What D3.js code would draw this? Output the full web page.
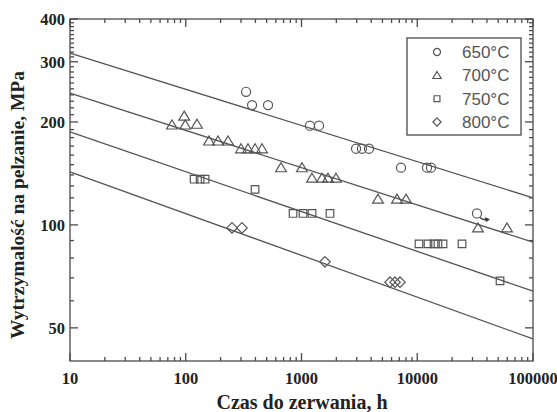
<!DOCTYPE html>
<html>
<head>
<meta charset="utf-8">
<script src="https://cdnjs.cloudflare.com/ajax/libs/d3/7.8.5/d3.min.js"></script>
<style>
  body { margin: 0; background: #fff; }
  svg { display: block; }
</style>
</head>
<body>
<svg width="557" height="412"></svg>
<script>
"use strict";

/////////////////////////////////////////////////////
//data (time h, stress MPa)
/////////////////////////////////////////////////////
const series = ["650°C", "700°C", "750°C", "800°C"];

const t650 = [332, 374, 514, 1183, 1416, 2960, 3330, 3830, 7240, 12140, 13150, 32800];
const s650 = [245, 224, 224, 195, 195, 167, 167, 167, 147, 147, 147, 108];

const t700 = [76, 97, 99, 125, 159, 190, 232, 300, 345, 397, 456, 665, 1010, 1232, 1504, 1694, 1986, 4580, 6680, 8000, 33500, 59600];
const s700 = [196, 208, 196, 197, 176, 176, 176, 167, 167, 167, 167, 147, 147, 137, 137, 137, 137, 119, 119, 119, 98, 98];

const t750 = [118, 133, 147, 397, 845, 1031, 1233, 1763, 10350, 12380, 13960, 15100, 16700, 24370, 51900];
const s750 = [136, 136, 136, 127, 108, 108, 108, 108, 88, 88, 88, 88, 88, 88, 68.6];

const t800 = [251, 306, 1596, 5820, 6430, 7100];
const s800 = [98, 98, 78, 68, 68, 68];

// fitted lines: stress at 10 h and at 100000 h
const lineT = [10, 100000];
const lineS = [[318, 120], [243, 89], [187, 64], [143, 46.4]];

// runout point (arrow)
const runoutT = 32800;
const runoutS = 108;

const xTicks = [10, 100, 1000, 10000, 100000];
const yTicks = [50, 100, 200, 300, 400];

/////////////////////////////////////////////////////
//setup
/////////////////////////////////////////////////////
const svg = d3.select("svg");
const ink = "#4a4a4a";
const plotL = 70, plotR = 533, plotT = 19, plotB = 361;

const x = d3.scaleLog().domain([10, 100000]).range([plotL, plotR]);
const y = d3.scaleLog().domain([40, 400]).range([plotB, plotT]);

const minorX = [];
for (let d = 10; d < 100000; d *= 10) {
  for (let k = 2; k <= 9; k++) minorX.push(d * k);
}
const minorY = d3.range(40, 401, 10).filter((v) => !yTicks.includes(v) && v !== 40);

/////////////////////////////////////////////////////
//frame and ticks (pointing inward on all four sides)
/////////////////////////////////////////////////////
const frame = svg.append("g").attr("stroke", ink).attr("stroke-width", 1.3);

frame
  .append("rect")
  .attr("x", plotL)
  .attr("y", plotT)
  .attr("width", plotR - plotL)
  .attr("height", plotB - plotT)
  .attr("fill", "none");

const xt = xTicks.map((v) => ({ v, len: 8 })).concat(minorX.map((v) => ({ v, len: 4 })));
const yt = yTicks.map((v) => ({ v, len: 8 })).concat(minorY.map((v) => ({ v, len: 4 })));

frame.selectAll(".xb").data(xt).enter().append("line")
  .attr("x1", (d) => x(d.v)).attr("x2", (d) => x(d.v))
  .attr("y1", plotB).attr("y2", (d) => plotB - d.len);
frame.selectAll(".xt").data(xt).enter().append("line")
  .attr("x1", (d) => x(d.v)).attr("x2", (d) => x(d.v))
  .attr("y1", plotT).attr("y2", (d) => plotT + d.len);
frame.selectAll(".yl").data(yt).enter().append("line")
  .attr("y1", (d) => y(d.v)).attr("y2", (d) => y(d.v))
  .attr("x1", plotL).attr("x2", (d) => plotL + d.len);
frame.selectAll(".yr").data(yt).enter().append("line")
  .attr("y1", (d) => y(d.v)).attr("y2", (d) => y(d.v))
  .attr("x1", plotR).attr("x2", (d) => plotR - d.len);

/////////////////////////////////////////////////////
//tick labels and titles
/////////////////////////////////////////////////////
const serif = "'Liberation Serif', 'Times New Roman', serif";

svg.append("g").selectAll("text").data(xTicks).enter().append("text")
  .attr("x", (d) => x(d))
  .attr("y", 384)
  .attr("text-anchor", "middle")
  .attr("font-family", serif)
  .attr("font-weight", "bold")
  .attr("font-size", 16.5)
  .attr("fill", "#222")
  .text((d) => d);

svg.append("g").selectAll("text").data(yTicks).enter().append("text")
  .attr("x", 65)
  .attr("y", (d) => y(d))
  .attr("dy", "0.35em")
  .attr("text-anchor", "end")
  .attr("font-family", serif)
  .attr("font-weight", "bold")
  .attr("font-size", 16.5)
  .attr("fill", "#222")
  .text((d) => d);

svg.append("text")
  .attr("x", 302)
  .attr("y", 409)
  .attr("text-anchor", "middle")
  .attr("font-family", serif)
  .attr("font-weight", "bold")
  .attr("font-size", 20)
  .attr("fill", "#222")
  .text("Czas do zerwania, h");

svg.append("text")
  .attr("transform", "translate(24,205) rotate(-90)")
  .attr("text-anchor", "middle")
  .attr("font-family", serif)
  .attr("font-weight", "bold")
  .attr("font-size", 19.5)
  .attr("fill", "#222")
  .text("Wytrzymalość na pelzanie, MPa");

/////////////////////////////////////////////////////
//fitted lines
/////////////////////////////////////////////////////
svg.append("g").selectAll("line").data(lineS).enter().append("line")
  .attr("x1", x(lineT[0])).attr("x2", x(lineT[1]))
  .attr("y1", (d) => y(d[0])).attr("y2", (d) => y(d[1]))
  .attr("stroke", "#555")
  .attr("stroke-width", 1.3);

/////////////////////////////////////////////////////
//markers
/////////////////////////////////////////////////////
const shapes = [
  (s) => d3.symbol().type(d3.symbolCircle).size(s * s * 0.8)(),
  (s) => `M0,${-s * 0.55}L${s * 0.6},${s * 0.45}L${-s * 0.6},${s * 0.45}Z`,
  (s) => `M${-s * 0.42},${-s * 0.42}h${s * 0.84}v${s * 0.84}h${-s * 0.84}Z`,
  (s) => `M0,${-s * 0.58}L${s * 0.58},0L0,${s * 0.58}L${-s * 0.58},0Z`,
];
const allT = [t650, t700, t750, t800];
const allS = [s650, s700, s750, s800];

allT.forEach((ts, i) => {
  svg.append("g").selectAll("path").data(ts).enter().append("path")
    .attr("transform", (d, j) => `translate(${x(d)},${y(allS[i][j])})`)
    .attr("d", shapes[i](9))
    .attr("fill", "none")
    .attr("stroke", "#555")
    .attr("stroke-width", 1.2);
});

// runout arrow
const rx = x(runoutT), ry = y(runoutS);
svg.append("path")
  .attr("d", `M${rx + 3},${ry + 4}Q${rx + 6},${ry + 7} ${rx + 11},${ry + 6}`)
  .attr("fill", "none")
  .attr("stroke", "#333")
  .attr("stroke-width", 1.3);
svg.append("path")
  .attr("d", `M${rx + 13},${ry + 6}L${rx + 8},${ry + 3.5}L${rx + 9},${ry + 8.5}Z`)
  .attr("fill", "#333");

/////////////////////////////////////////////////////
//legend
/////////////////////////////////////////////////////
const legend = svg.append("g");
legend.append("rect")
  .attr("x", 407).attr("y", 38)
  .attr("width", 114).attr("height", 97)
  .attr("fill", "#fff")
  .attr("stroke", ink)
  .attr("stroke-width", 1.3);

const rowY = d3.scalePoint().domain(series).range([52, 122]);
series.forEach((name, i) => {
  legend.append("path")
    .attr("transform", `translate(437,${rowY(name)})`)
    .attr("d", shapes[i](7))
    .attr("fill", "none")
    .attr("stroke", "#555")
    .attr("stroke-width", 1.2);
  legend.append("text")
    .attr("x", 462)
    .attr("y", rowY(name))
    .attr("dy", "0.36em")
    .attr("font-family", "'Liberation Sans', Arial, sans-serif")
    .attr("font-size", 17)
    .attr("fill", "#555")
    .text(name);
});
</script>
</body>
</html>
